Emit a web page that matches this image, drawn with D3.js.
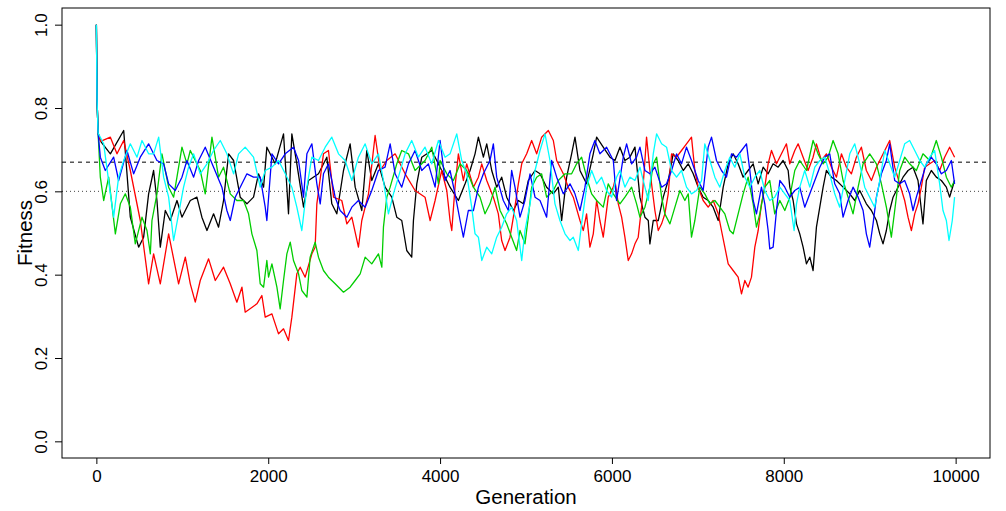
<!DOCTYPE html>
<html>
<head>
<meta charset="utf-8">
<script src="https://cdn.jsdelivr.net/npm/d3@7"></script>
<style>
  body { margin: 0; background: #fff; }
  svg { display: block; font-family: "Liberation Sans", Arial, Helvetica, sans-serif; }
</style>
</head>
<body>
<svg id="chart" width="1006" height="511"></svg>
<script>
// x tick labels / y tick labels
var genTicks = [0, 2000, 4000, 6000, 8000, 10000];
var fitTicks = [0, 0.2, 0.4, 0.6, 0.8, 1.0];
var refDashed = 0.67, refDotted = 0.6;

// [generation, fitness], one run per colour
var blackRun = [[0,1.0],[8,0.82],[20,0.74],[50,0.72],[163,0.69],[318,0.746],[395,0.538],[492,0.466],[550,0.49],[608,0.594],[666,0.65],[705,0.578],[744,0.466],[802,0.554],[860,0.53],[938,0.578],[996,0.538],[1093,0.578],[1170,0.586],[1228,0.538],[1287,0.506],[1364,0.546],[1422,0.514],[1480,0.578],[1539,0.69],[1597,0.674],[1674,0.586],[1752,0.57],[1829,0.586],[1887,0.642],[1946,0.61],[1984,0.706],[2081,0.666],[2178,0.738],[2236,0.546],[2275,0.738],[2333,0.666],[2411,0.562],[2469,0.626],[2585,0.642],[2682,0.682],[2740,0.57],[2798,0.546],[2876,0.65],[2953,0.714],[3012,0.61],[3089,0.554],[3147,0.698],[3205,0.626],[3283,0.666],[3360,0.61],[3438,0.586],[3496,0.538],[3554,0.53],[3612,0.458],[3670,0.442],[3690,0.53],[3729,0.618],[3787,0.682],[3903,0.698],[4019,0.65],[4116,0.61],[4213,0.578],[4291,0.618],[4349,0.65],[4407,0.69],[4446,0.73],[4504,0.682],[4543,0.714],[4601,0.65],[4659,0.61],[4717,0.634],[4775,0.586],[4853,0.554],[4911,0.578],[4969,0.57],[5027,0.626],[5105,0.65],[5163,0.642],[5240,0.61],[5318,0.594],[5376,0.61],[5415,0.53],[5473,0.634],[5531,0.69],[5570,0.73],[5628,0.65],[5705,0.618],[5783,0.69],[5822,0.73],[5899,0.706],[5977,0.682],[6035,0.674],[6093,0.706],[6151,0.674],[6209,0.682],[6268,0.706],[6326,0.586],[6384,0.538],[6423,0.53],[6442,0.474],[6481,0.53],[6539,0.53],[6597,0.586],[6655,0.626],[6713,0.69],[6771,0.674],[6830,0.65],[6888,0.666],[6946,0.642],[7004,0.61],[7062,0.586],[7120,0.578],[7178,0.562],[7237,0.53],[7295,0.61],[7353,0.666],[7411,0.69],[7469,0.666],[7527,0.634],[7585,0.65],[7644,0.666],[7702,0.618],[7760,0.658],[7818,0.642],[7876,0.666],[7934,0.658],[7992,0.674],[8051,0.65],[8070,0.61],[8109,0.578],[8148,0.522],[8186,0.498],[8225,0.466],[8264,0.426],[8303,0.442],[8341,0.41],[8380,0.514],[8419,0.562],[8458,0.61],[8496,0.65],[8555,0.634],[8613,0.626],[8690,0.61],[8768,0.594],[8826,0.578],[8884,0.602],[8961,0.57],[9020,0.554],[9078,0.53],[9117,0.498],[9155,0.474],[9194,0.506],[9233,0.554],[9272,0.586],[9330,0.61],[9388,0.634],[9446,0.65],[9504,0.658],[9562,0.626],[9620,0.522],[9659,0.626],[9717,0.65],[9775,0.634],[9834,0.626],[9892,0.61],[9930,0.586],[9988,0.626]];

var redRun = [[0,1.0],[8,0.82],[20,0.74],[50,0.72],[163,0.73],[240,0.69],[318,0.722],[395,0.65],[511,0.53],[608,0.378],[666,0.45],[744,0.378],[841,0.498],[957,0.378],[1035,0.442],[1093,0.378],[1151,0.334],[1209,0.386],[1306,0.438],[1384,0.386],[1480,0.418],[1558,0.378],[1635,0.334],[1694,0.37],[1732,0.31],[1868,0.33],[1926,0.35],[1965,0.298],[2043,0.306],[2120,0.258],[2178,0.27],[2236,0.242],[2275,0.298],[2333,0.402],[2372,0.418],[2430,0.394],[2508,0.45],[2546,0.466],[2566,0.57],[2643,0.69],[2701,0.698],[2760,0.586],[2856,0.578],[2915,0.522],[2973,0.538],[3050,0.466],[3089,0.53],[3167,0.594],[3244,0.734],[3302,0.65],[3380,0.674],[3477,0.69],[3593,0.642],[3709,0.602],[3825,0.586],[3884,0.53],[3942,0.578],[4019,0.65],[4078,0.602],[4116,0.53],[4136,0.506],[4174,0.61],[4213,0.69],[4271,0.626],[4310,0.666],[4388,0.61],[4446,0.634],[4485,0.666],[4543,0.626],[4620,0.586],[4678,0.546],[4717,0.482],[4756,0.458],[4814,0.49],[4853,0.538],[4911,0.618],[4950,0.666],[5008,0.69],[5066,0.722],[5124,0.69],[5182,0.73],[5260,0.746],[5318,0.722],[5357,0.674],[5434,0.642],[5492,0.61],[5550,0.586],[5628,0.53],[5667,0.506],[5705,0.546],[5744,0.466],[5783,0.498],[5822,0.578],[5860,0.53],[5899,0.49],[5957,0.586],[6016,0.61],[6035,0.626],[6074,0.57],[6113,0.538],[6151,0.49],[6190,0.434],[6229,0.45],[6268,0.474],[6306,0.49],[6345,0.562],[6384,0.674],[6403,0.73],[6442,0.65],[6500,0.554],[6539,0.506],[6578,0.522],[6616,0.546],[6655,0.594],[6694,0.69],[6752,0.682],[6810,0.698],[6868,0.714],[6926,0.73],[6965,0.65],[7004,0.61],[7062,0.578],[7120,0.562],[7178,0.578],[7237,0.546],[7275,0.506],[7314,0.466],[7353,0.426],[7411,0.41],[7469,0.394],[7508,0.354],[7547,0.386],[7585,0.37],[7624,0.394],[7663,0.466],[7702,0.506],[7740,0.57],[7779,0.61],[7818,0.666],[7857,0.698],[7915,0.666],[7973,0.69],[8031,0.714],[8070,0.666],[8128,0.698],[8167,0.714],[8225,0.682],[8283,0.65],[8341,0.682],[8380,0.714],[8438,0.674],[8496,0.69],[8555,0.658],[8613,0.634],[8671,0.69],[8729,0.658],[8787,0.642],[8845,0.682],[8903,0.706],[8961,0.65],[9020,0.626],[9078,0.658],[9136,0.682],[9194,0.706],[9233,0.722],[9291,0.658],[9349,0.618],[9407,0.578],[9446,0.538],[9485,0.506],[9524,0.546],[9562,0.57],[9601,0.61],[9640,0.658],[9698,0.666],[9756,0.674],[9814,0.65],[9872,0.682],[9930,0.706],[9988,0.682]];

var greenRun = [[0,1.0],[8,0.82],[20,0.74],[46,0.634],[85,0.578],[143,0.634],[221,0.498],[279,0.57],[337,0.594],[395,0.562],[453,0.474],[531,0.538],[589,0.506],[628,0.45],[647,0.53],[705,0.594],[763,0.69],[841,0.61],[899,0.586],[996,0.706],[1054,0.666],[1093,0.698],[1209,0.65],[1267,0.594],[1345,0.73],[1422,0.634],[1480,0.658],[1558,0.594],[1635,0.578],[1713,0.578],[1771,0.546],[1810,0.498],[1868,0.458],[1907,0.378],[1946,0.37],[1984,0.434],[2004,0.394],[2043,0.426],[2101,0.37],[2139,0.318],[2178,0.386],[2217,0.45],[2256,0.478],[2294,0.434],[2353,0.402],[2391,0.362],[2450,0.346],[2488,0.442],[2546,0.478],[2585,0.442],[2643,0.41],[2701,0.394],[2779,0.378],[2876,0.358],[2953,0.37],[3012,0.386],[3070,0.402],[3128,0.442],[3205,0.426],[3283,0.45],[3322,0.418],[3341,0.514],[3380,0.586],[3419,0.61],[3496,0.666],[3554,0.698],[3632,0.69],[3709,0.65],[3825,0.674],[3903,0.706],[3981,0.618],[4000,0.674],[4078,0.642],[4155,0.626],[4233,0.666],[4310,0.65],[4388,0.61],[4465,0.586],[4523,0.546],[4581,0.57],[4640,0.61],[4698,0.554],[4775,0.522],[4833,0.49],[4891,0.458],[4930,0.506],[4988,0.474],[5027,0.538],[5066,0.61],[5124,0.634],[5182,0.642],[5240,0.586],[5318,0.602],[5376,0.626],[5454,0.642],[5531,0.642],[5589,0.666],[5647,0.682],[5705,0.634],[5764,0.594],[5822,0.578],[5899,0.562],[5957,0.618],[6016,0.594],[6093,0.57],[6151,0.586],[6229,0.61],[6287,0.57],[6326,0.538],[6384,0.562],[6442,0.61],[6481,0.666],[6520,0.682],[6578,0.586],[6616,0.546],[6675,0.522],[6733,0.562],[6791,0.602],[6849,0.578],[6888,0.594],[6926,0.49],[6965,0.53],[7023,0.61],[7081,0.594],[7140,0.57],[7198,0.578],[7256,0.562],[7314,0.546],[7372,0.506],[7411,0.498],[7469,0.546],[7527,0.594],[7585,0.634],[7644,0.57],[7682,0.514],[7721,0.546],[7779,0.61],[7837,0.626],[7895,0.546],[7954,0.578],[8012,0.554],[8070,0.586],[8128,0.65],[8186,0.674],[8264,0.65],[8341,0.722],[8399,0.69],[8458,0.666],[8516,0.682],[8574,0.722],[8632,0.69],[8690,0.626],[8748,0.586],[8806,0.546],[8865,0.61],[8923,0.666],[9000,0.69],[9078,0.666],[9136,0.618],[9194,0.562],[9252,0.49],[9291,0.554],[9349,0.65],[9407,0.682],[9465,0.666],[9543,0.65],[9620,0.69],[9698,0.674],[9775,0.722],[9834,0.682],[9892,0.634],[9950,0.61],[9988,0.626]];

var blueRun = [[0,1.0],[8,0.82],[20,0.74],[46,0.682],[104,0.65],[201,0.682],[259,0.626],[356,0.698],[434,0.642],[511,0.682],[608,0.714],[705,0.674],[783,0.666],[841,0.618],[918,0.602],[996,0.634],[1054,0.674],[1132,0.634],[1190,0.674],[1267,0.706],[1364,0.658],[1461,0.61],[1519,0.554],[1558,0.53],[1616,0.586],[1674,0.61],[1752,0.642],[1829,0.634],[1907,0.634],[1965,0.562],[1984,0.53],[2043,0.69],[2120,0.666],[2198,0.69],[2294,0.706],[2353,0.674],[2411,0.586],[2450,0.69],[2508,0.714],[2566,0.618],[2605,0.57],[2643,0.642],[2701,0.666],[2779,0.586],[2837,0.554],[2915,0.538],[2973,0.562],[3050,0.578],[3128,0.562],[3205,0.602],[3283,0.65],[3360,0.658],[3419,0.714],[3477,0.642],[3554,0.61],[3632,0.666],[3709,0.698],[3787,0.65],[3864,0.666],[3942,0.61],[4000,0.722],[4058,0.626],[4116,0.65],[4174,0.594],[4233,0.53],[4271,0.49],[4329,0.554],[4388,0.554],[4446,0.61],[4504,0.642],[4581,0.674],[4620,0.714],[4659,0.634],[4736,0.578],[4795,0.554],[4833,0.65],[4872,0.61],[4930,0.538],[4988,0.578],[5047,0.642],[5105,0.586],[5163,0.578],[5240,0.538],[5298,0.674],[5357,0.634],[5434,0.594],[5512,0.618],[5570,0.594],[5628,0.554],[5686,0.61],[5744,0.69],[5802,0.722],[5860,0.69],[5938,0.706],[6016,0.674],[6054,0.578],[6132,0.682],[6171,0.714],[6229,0.666],[6287,0.682],[6326,0.706],[6384,0.65],[6442,0.642],[6500,0.658],[6578,0.61],[6636,0.618],[6694,0.65],[6752,0.69],[6810,0.666],[6868,0.706],[6926,0.674],[7004,0.626],[7062,0.602],[7120,0.706],[7159,0.73],[7217,0.674],[7275,0.65],[7333,0.634],[7392,0.69],[7450,0.682],[7508,0.698],[7566,0.714],[7605,0.65],[7644,0.578],[7682,0.546],[7740,0.61],[7779,0.57],[7818,0.506],[7837,0.462],[7876,0.466],[7915,0.554],[7954,0.626],[8012,0.61],[8070,0.586],[8128,0.602],[8186,0.61],[8244,0.562],[8303,0.594],[8361,0.626],[8419,0.658],[8477,0.682],[8535,0.69],[8593,0.618],[8651,0.594],[8690,0.538],[8748,0.578],[8806,0.61],[8865,0.586],[8923,0.554],[8961,0.498],[9000,0.466],[9039,0.522],[9078,0.586],[9136,0.642],[9194,0.674],[9233,0.714],[9291,0.626],[9349,0.618],[9407,0.626],[9465,0.594],[9504,0.554],[9543,0.586],[9601,0.626],[9659,0.666],[9717,0.682],[9775,0.666],[9834,0.642],[9892,0.65],[9950,0.674],[9988,0.618]];

var cyanRun = [[0,1.0],[8,0.82],[20,0.74],[85,0.714],[163,0.594],[201,0.538],[259,0.634],[318,0.674],[395,0.714],[473,0.682],[531,0.722],[608,0.69],[666,0.69],[725,0.73],[783,0.634],[841,0.586],[899,0.482],[957,0.546],[1015,0.61],[1073,0.658],[1132,0.69],[1209,0.642],[1287,0.666],[1364,0.698],[1442,0.722],[1519,0.69],[1597,0.642],[1655,0.69],[1732,0.706],[1829,0.682],[1907,0.61],[1965,0.65],[2043,0.658],[2120,0.674],[2198,0.642],[2275,0.61],[2333,0.562],[2391,0.506],[2450,0.61],[2508,0.682],[2585,0.674],[2663,0.706],[2740,0.73],[2818,0.69],[2895,0.674],[2973,0.626],[3050,0.682],[3128,0.714],[3205,0.666],[3283,0.69],[3341,0.626],[3399,0.546],[3457,0.594],[3515,0.634],[3593,0.69],[3670,0.722],[3748,0.682],[3825,0.706],[3903,0.666],[3981,0.722],[4058,0.682],[4116,0.69],[4194,0.738],[4252,0.674],[4310,0.642],[4368,0.562],[4407,0.498],[4446,0.49],[4485,0.434],[4543,0.466],[4601,0.45],[4659,0.49],[4717,0.514],[4775,0.546],[4833,0.562],[4891,0.53],[4950,0.434],[4988,0.506],[5047,0.57],[5105,0.65],[5163,0.698],[5221,0.738],[5279,0.674],[5337,0.57],[5395,0.53],[5454,0.498],[5512,0.482],[5550,0.49],[5609,0.458],[5647,0.522],[5705,0.61],[5764,0.65],[5822,0.618],[5880,0.634],[5938,0.602],[5996,0.586],[6054,0.634],[6093,0.65],[6151,0.61],[6209,0.634],[6268,0.626],[6326,0.658],[6384,0.61],[6423,0.578],[6481,0.69],[6520,0.738],[6578,0.714],[6636,0.706],[6694,0.65],[6752,0.634],[6810,0.65],[6868,0.61],[6926,0.594],[6985,0.602],[7043,0.626],[7081,0.714],[7140,0.674],[7198,0.634],[7256,0.61],[7314,0.65],[7372,0.682],[7430,0.658],[7489,0.69],[7547,0.634],[7605,0.61],[7663,0.634],[7721,0.65],[7779,0.602],[7837,0.578],[7895,0.586],[7954,0.61],[8012,0.594],[8070,0.578],[8120,0.506],[8148,0.57],[8186,0.61],[8244,0.65],[8303,0.61],[8361,0.658],[8419,0.674],[8477,0.682],[8535,0.642],[8593,0.594],[8651,0.562],[8710,0.626],[8768,0.69],[8826,0.714],[8884,0.666],[8942,0.61],[9000,0.586],[9058,0.562],[9117,0.626],[9175,0.698],[9233,0.666],[9291,0.634],[9349,0.674],[9407,0.714],[9465,0.722],[9524,0.698],[9582,0.674],[9640,0.658],[9698,0.682],[9756,0.698],[9814,0.618],[9853,0.554],[9892,0.53],[9923,0.482],[9961,0.53],[9988,0.586]];

var runs = [
  { data: blackRun, color: "#000000" },
  { data: redRun,   color: "#FF0000" },
  { data: greenRun, color: "#00CD00" },
  { data: blueRun,  color: "#0000FF" },
  { data: cyanRun,  color: "#00FFFF" }
];

var svg = d3.select("#chart");
var plotL = 62, plotR = 990, plotT = 8, plotB = 458;

var x = d3.scaleLinear().domain([-400, 10400]).range([plotL, plotR]);
var y = d3.scaleLinear().domain([-0.04, 1.04]).range([plotB, plotT]);

// reference lines
svg.append("line")
  .attr("x1", plotL).attr("x2", plotR)
  .attr("y1", y(refDashed)).attr("y2", y(refDashed))
  .attr("stroke", "#000").attr("stroke-width", 1)
  .attr("stroke-dasharray", "4,4");
svg.append("line")
  .attr("x1", plotL).attr("x2", plotR)
  .attr("y1", y(refDotted)).attr("y2", y(refDotted))
  .attr("stroke", "#444").attr("stroke-width", 1)
  .attr("stroke-dasharray", "1,3");

var line = d3.line()
  .x(function(d) { return x(d[0]); })
  .y(function(d) { return y(d[1]); });

svg.append("g").selectAll("path")
  .data(runs)
  .enter().append("path")
  .attr("d", function(r) { return line(r.data); })
  .attr("fill", "none")
  .attr("stroke", function(r) { return r.color; })
  .attr("stroke-width", 1.3)
  .attr("stroke-linejoin", "round");

// box
svg.append("rect")
  .attr("x", plotL).attr("y", plotT)
  .attr("width", plotR - plotL).attr("height", plotB - plotT)
  .attr("fill", "none").attr("stroke", "#000").attr("stroke-width", 1);

var xAxis = svg.append("g")
  .attr("transform", "translate(0," + plotB + ")")
  .call(d3.axisBottom(x).tickValues(genTicks).tickSize(6).tickFormat(d3.format("d")));
xAxis.select(".domain").remove();
xAxis.selectAll("text")
  .attr("y", 24).attr("dy", 0)
  .attr("font-size", "17px").attr("font-family", "Liberation Sans, Arial, sans-serif")
  .attr("fill", "#000");

var yAxis = svg.append("g")
  .attr("transform", "translate(" + plotL + ",0)")
  .call(d3.axisLeft(y).tickValues(fitTicks).tickSize(7).tickFormat(d3.format(".1f")));
yAxis.select(".domain").remove();
yAxis.selectAll("text")
  .attr("transform", "rotate(-90)")
  .attr("x", 0).attr("y", -15).attr("dy", 0)
  .attr("text-anchor", "middle")
  .attr("font-size", "17px").attr("font-family", "Liberation Sans, Arial, sans-serif")
  .attr("fill", "#000");

svg.append("text")
  .attr("x", x(5000)).attr("y", 504)
  .attr("text-anchor", "middle")
  .attr("font-size", "20.5px")
  .text("Generation");

svg.append("text")
  .attr("transform", "translate(32," + ((plotT + plotB) / 2) + ") rotate(-90)")
  .attr("text-anchor", "middle")
  .attr("font-size", "20.5px")
  .text("Fitness");
</script>
</body>
</html>
